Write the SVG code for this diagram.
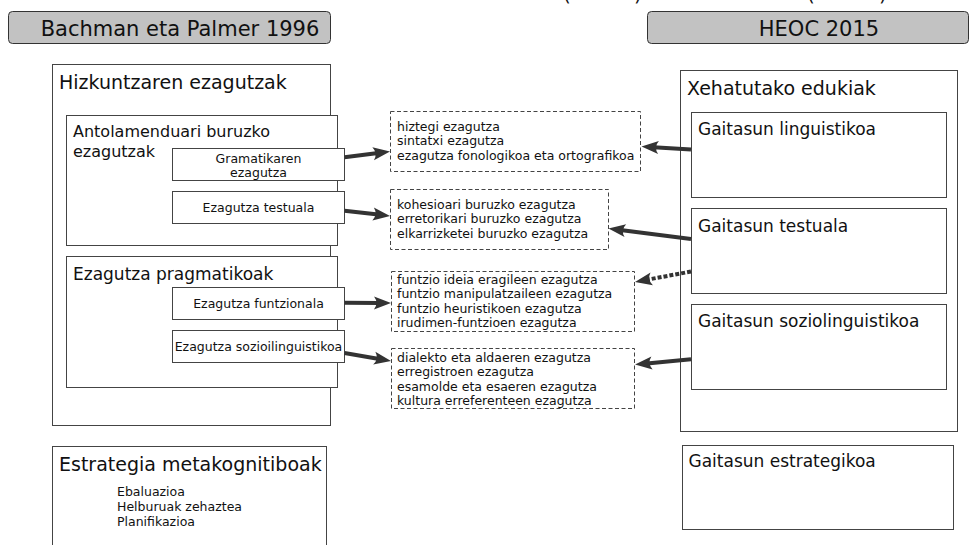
<svg xmlns="http://www.w3.org/2000/svg" width="978" height="545" viewBox="0 0 978 545">
  <style>
    text { font-family: "DejaVu Sans", "Noto Sans", sans-serif; fill: #111; }
    .hdr { fill: #c2c2c2; stroke: #333; stroke-width: 1; }
    .box { fill: #fff; stroke: #444; stroke-width: 1; }
    .dbox { fill: #fff; stroke: #444; stroke-width: 1; stroke-dasharray: 4 2.5; }
    .t20 { font-size: 20px; }
    .t21 { font-size: 21px; }
    .t19 { font-size: 19px; }
    .t17 { font-size: 17px; }
    .t16 { font-size: 16px; }
    .s { font-size: 12.5px; }
    .mid { text-anchor: middle; }
    .conn { fill: none; stroke: #333; stroke-width: 4; marker-end: url(#arrow); }
    .dash { stroke-dasharray: 4 2; }
  </style>
  <defs>
    <marker id="arrow" markerUnits="userSpaceOnUse" markerWidth="20" markerHeight="16" refX="6" refY="8" orient="auto" overflow="visible">
      <path d="M18,8 L1,1.5 Q6,8 1,14.5 Z" fill="#333"/>
    </marker>
  </defs>

  <!-- partly visible parentheses along the top edge -->
  <g id="top-marks">
    <text class="t20" x="563" y="1">(</text>
    <text class="t20" x="634" y="1">)</text>
    <text class="t20" x="807" y="1">(</text>
    <text class="t20" x="879" y="1">)</text>
  </g>

  <!-- column headers -->
  <g id="hdr-bachman">
    <rect class="hdr" x="8.5" y="11.5" width="322" height="32" rx="4"/>
    <text class="t21 mid" x="180" y="35.5">Bachman eta Palmer 1996</text>
  </g>
  <g id="hdr-heoc">
    <rect class="hdr" x="647.5" y="11.5" width="321" height="32" rx="4"/>
    <text class="t21 mid" x="819" y="35.5">HEOC 2015</text>
  </g>

  <!-- left column -->
  <g id="hizkuntza">
    <rect class="box" x="52.5" y="64.5" width="278" height="361"/>
    <text class="t19" x="59" y="89">Hizkuntzaren ezagutzak</text>
  </g>
  <g id="antolamendua">
    <rect class="box" x="66.5" y="115.5" width="271" height="130"/>
    <text class="t16" x="73" y="137">Antolamenduari buruzko</text>
    <text class="t16" x="73" y="156.5">ezagutzak</text>
  </g>
  <g id="gramatika">
    <rect class="box" x="172.5" y="148.5" width="172" height="32"/>
    <text class="s mid" x="258.5" y="162.5">Gramatikaren</text>
    <text class="s mid" x="258.5" y="176.5">ezagutza</text>
  </g>
  <g id="testuala">
    <rect class="box" x="172.5" y="191.5" width="172" height="32"/>
    <text class="s mid" x="258.5" y="212">Ezagutza testuala</text>
  </g>
  <g id="pragmatika">
    <rect class="box" x="66.5" y="256.5" width="271" height="131"/>
    <text class="t17" x="73" y="280">Ezagutza pragmatikoak</text>
  </g>
  <g id="funtzionala">
    <rect class="box" x="172.5" y="287.5" width="172" height="32"/>
    <text class="s mid" x="258.5" y="308">Ezagutza funtzionala</text>
  </g>
  <g id="soziolinguistika">
    <rect class="box" x="172.5" y="330.5" width="172" height="32"/>
    <text class="s mid" x="258.5" y="351">Ezagutza sozioilinguistikoa</text>
  </g>
  <g id="metakognitiboak">
    <rect class="box" x="52.5" y="446.5" width="274" height="120"/>
    <text class="t19" x="59" y="471">Estrategia metakognitiboak</text>
    <text class="s" x="117" y="495.5">Ebaluazioa</text>
    <text class="s" x="117" y="510.5">Helburuak zehaztea</text>
    <text class="s" x="117" y="525.5">Planifikazioa</text>
  </g>

  <!-- middle column: detail lists -->
  <g id="lista-gramatika">
    <rect class="dbox" x="390.5" y="111.5" width="250" height="60"/>
    <text class="s" x="397" y="130.5">hiztegi ezagutza</text>
    <text class="s" x="397" y="145.3">sintatxi ezagutza</text>
    <text class="s" x="397" y="160">ezagutza fonologikoa eta ortografikoa</text>
  </g>
  <g id="lista-testuala">
    <rect class="dbox" x="390.5" y="189.5" width="218" height="60"/>
    <text class="s" x="397" y="208.5">kohesioari buruzko ezagutza</text>
    <text class="s" x="397" y="223">erretorikari buruzko ezagutza</text>
    <text class="s" x="397" y="237.5">elkarrizketei buruzko ezagutza</text>
  </g>
  <g id="lista-funtzionala">
    <rect class="dbox" x="391.5" y="271.5" width="243" height="60"/>
    <text class="s" x="397" y="283.5">funtzio ideia eragileen ezagutza</text>
    <text class="s" x="397" y="298">funtzio manipulatzaileen ezagutza</text>
    <text class="s" x="397" y="312.5">funtzio heuristikoen ezagutza</text>
    <text class="s" x="397" y="327">irudimen-funtzioen ezagutza</text>
  </g>
  <g id="lista-soziolinguistika">
    <rect class="dbox" x="391.5" y="348.5" width="243" height="60"/>
    <text class="s" x="397" y="361.5">dialekto eta aldaeren ezagutza</text>
    <text class="s" x="397" y="376">erregistroen ezagutza</text>
    <text class="s" x="397" y="390.5">esamolde eta esaeren ezagutza</text>
    <text class="s" x="397" y="405">kultura erreferenteen ezagutza</text>
  </g>

  <!-- right column -->
  <g id="edukiak">
    <rect class="box" x="680.5" y="70.5" width="277" height="361"/>
    <text class="t19" x="687" y="95">Xehatutako edukiak</text>
  </g>
  <g id="g-linguistikoa">
    <rect class="box" x="691.5" y="112.5" width="255" height="85"/>
    <text class="t17" x="698" y="135">Gaitasun linguistikoa</text>
  </g>
  <g id="g-testuala">
    <rect class="box" x="691.5" y="208.5" width="255" height="85"/>
    <text class="t17" x="698" y="231.5">Gaitasun testuala</text>
  </g>
  <g id="g-soziolinguistikoa">
    <rect class="box" x="691.5" y="304.5" width="255" height="85"/>
    <text class="t17" x="698" y="327">Gaitasun soziolinguistikoa</text>
  </g>
  <g id="g-estrategikoa">
    <rect class="box" x="682.5" y="445.5" width="271" height="84"/>
    <text class="t17" x="688.5" y="467">Gaitasun estrategikoa</text>
  </g>

  <!-- connectors -->
  <g id="connectors">
    <line class="conn" x1="344.5" y1="157.3" x2="378.1" y2="153.1"/>
    <line class="conn" x1="344.5" y1="210.7" x2="378.1" y2="214.6"/>
    <line class="conn" x1="344.5" y1="302.7" x2="379" y2="303"/>
    <line class="conn" x1="344.5" y1="353" x2="379.2" y2="359"/>
    <line class="conn" x1="691" y1="149.5" x2="653.5" y2="147.2"/>
    <line class="conn" x1="691" y1="239" x2="620.4" y2="230"/>
    <line class="conn dash" x1="691" y1="271.5" x2="646.8" y2="279.8"/>
    <line class="conn" x1="691" y1="359.3" x2="647" y2="363.4"/>
  </g>
</svg>
